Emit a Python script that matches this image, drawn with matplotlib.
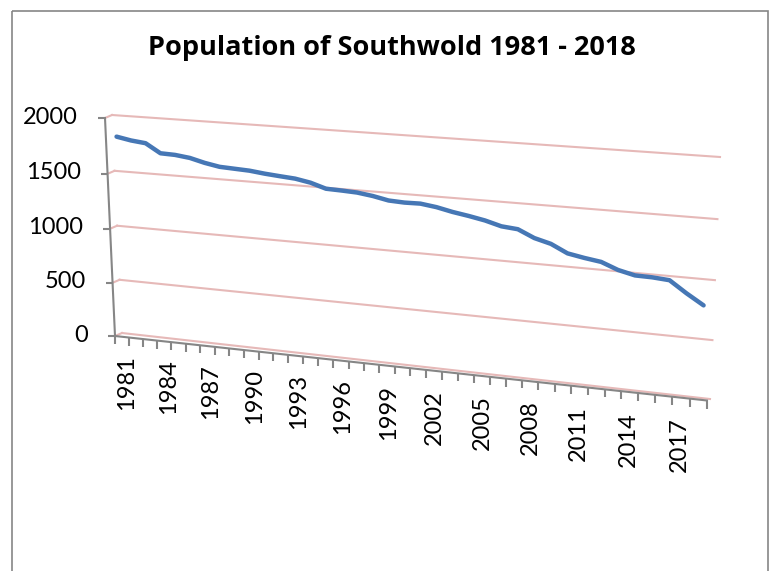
import numpy as np
import matplotlib
matplotlib.use("Agg")
import matplotlib.pyplot as plt
import matplotlib.transforms as mtransforms
import matplotlib.markers as mmarkers
from matplotlib.patches import Rectangle

# Southwold population, one value per year
years = list(range(1981, 2019))
population = [1825, 1800, 1785, 1705, 1700, 1683, 1649, 1624, 1617, 1610,
              1594, 1582, 1571, 1546, 1504, 1499, 1492, 1473, 1445, 1438,
              1440, 1421, 1391, 1368, 1341, 1303, 1290, 1227, 1190, 1122,
              1096, 1075, 1020, 987, 984, 973, 877, 790]
y_ticks = [0, 500, 1000, 1500, 2000]
x_labels = [str(y) for y in years[::3]]

n_cat = len(years)

# back wall of the 3-D box: (category, value/1000) -> pixel corners
wall_src = [(0, 2.0), (n_cat, 2.0), (0, 0.0), (n_cat, 0.0)]
wall_dst = [(112, 115), (720, 157), (122, 333), (710, 399)]
depth_left = np.array([-7.0, 3.0])
depth_right = np.array([-3.0, 1.5])

grid_col = "#E6B9B8"
axis_col = "#868686"
line_col = "#4677B5"


def fit_homography(src, dst):
    rows, rhs = [], []
    for (u, v), (x, y) in zip(src, dst):
        rows.append([u, v, 1, 0, 0, 0, -x * u, -x * v])
        rhs.append(x)
        rows.append([0, 0, 0, u, v, 1, -y * u, -y * v])
        rhs.append(y)
    h = np.linalg.solve(np.array(rows, float), np.array(rhs, float))
    return np.append(h, 1.0).reshape(3, 3)


H = fit_homography(wall_src, wall_dst)


class WallProjection(mtransforms.Transform):
    """(category position, value) -> pixel, at a given depth (0 back, 1 front)."""
    input_dims = 2
    output_dims = 2

    def __init__(self, w=0.0):
        super().__init__()
        self.w = w

    def transform_non_affine(self, values):
        values = np.asarray(values, dtype=float).reshape(-1, 2)
        u = values[:, 0]
        v = values[:, 1] / 1000.0
        p = np.column_stack([u, v, np.ones_like(u)]) @ H.T
        xy = p[:, :2] / p[:, 2:3]
        t = (u / n_cat)[:, None]
        shift = (1 - t) * depth_left + t * depth_right
        return xy + self.w * shift


fig = plt.figure(figsize=(7.75, 5.71), dpi=100)
ax = fig.add_axes([0, 0, 1, 1])
ax.set_xlim(0, 775)
ax.set_ylim(571, 0)
ax.set_autoscale_on(False)
ax.axis("off")

back = WallProjection(0.0)
mid = WallProjection(0.5)
front = WallProjection(1.0)

# chart border
ax.add_patch(Rectangle((12, 11), 756, 600, fill=False, edgecolor=axis_col, lw=1.2))

ax.text(392, 48, "Population of Southwold 1981 - 2018", ha="center", va="center",
        fontsize=19.5, fontweight="bold",
        family=["Liberation Sans Narrow", "Open Sans", "DejaVu Sans"])

# gridlines on the back wall plus the short bit on the side wall
for v in y_ticks:
    ax.plot([0, n_cat], [v, v], color=grid_col, lw=1.5, transform=back + ax.transData)
    side = np.vstack([front.transform([[0, v]]), back.transform([[0, v]])])
    ax.plot(side[:, 0], side[:, 1], color=grid_col, lw=1.5)

# value axis on the front-left edge
ax.plot([0, 0], [0, y_ticks[-1]], color=axis_col, lw=1.5, transform=front + ax.transData)
ax.plot([0] * len(y_ticks), y_ticks, ls="none", marker=mmarkers.TICKLEFT,
        ms=5, mew=1.5, color=axis_col, transform=front + ax.transData)
label_tf = mtransforms.offset_copy(front + ax.transData, fig=fig, x=-27, y=1, units="dots")
for v in y_ticks:
    ax.text(0, v, str(v), ha="right", va="center", fontsize=17, family="Lato",
            transform=label_tf)

# category axis along the front of the floor
ax.plot([0, n_cat], [0, 0], color=axis_col, lw=1.5, transform=front + ax.transData)
ax.plot(np.arange(n_cat + 1), np.zeros(n_cat + 1), ls="none", marker=mmarkers.TICKDOWN,
        ms=5.5, mew=1.5, color=axis_col, transform=front + ax.transData)

# year labels hang under the floor edge
lab_u = 3 * np.arange(len(x_labels)) + 0.5
lab_back = back.transform(np.column_stack([lab_u, np.zeros_like(lab_u)]))
lab_front = front.transform(np.column_stack([lab_u, np.zeros_like(lab_u)]))
t_lab = lab_u / n_cat
for lab, bx, fy, t in zip(x_labels, lab_back[:, 0], lab_front[:, 1], t_lab):
    ax.text(bx - 2.5 - 2.5 * t, fy + 18 + 2 * t, lab, rotation=90, ha="center",
            va="top", fontsize=17, family="Lato")

# the population series
ax.plot(np.arange(n_cat) + 0.5, population, color=line_col, lw=3.2,
        solid_joinstyle="round", solid_capstyle="round", transform=mid + ax.transData)

fig.savefig("out.png", dpi=100)
